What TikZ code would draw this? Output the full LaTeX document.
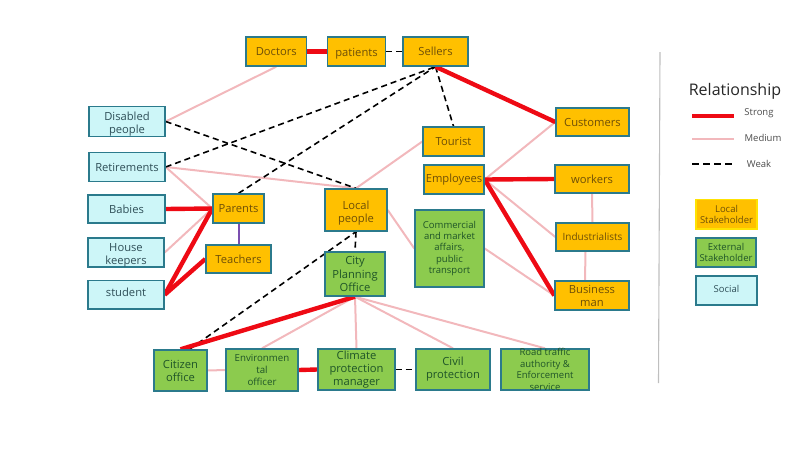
\documentclass[tikz,border=0pt]{standalone}
\usepackage{fontspec}
\setmainfont{Open Sans}
\usetikzlibrary{backgrounds}
\definecolor{edgeblue}{HTML}{2B7A8C}
\definecolor{orangefill}{HTML}{FFC000}
\definecolor{greenfill}{HTML}{8CCB4E}
\definecolor{cyanfill}{HTML}{CDF6F8}
\definecolor{strongred}{HTML}{EE0A14}
\definecolor{medpink}{HTML}{F2B8BC}
\definecolor{orangetext}{HTML}{6E4F08}
\definecolor{greentext}{HTML}{1F5528}
\definecolor{cyantext}{HTML}{2F4F58}
\definecolor{linkpurple}{HTML}{7B4FB0}
\newcommand{\lowerby}{\rule{0pt}{13pt}}
\tikzset{
  basebox/.style={draw=edgeblue,line width=1.4pt,inner sep=0pt,align=center,font=\fontsize{11.2}{13.1}\selectfont},
  localbox/.style={basebox,fill=orangefill,text=orangetext},
  extbox/.style={basebox,fill=greenfill,text=greentext},
  socbox/.style={basebox,fill=cyanfill,text=cyantext},
  smalltext/.style={font=\fontsize{9.5}{11.4}\selectfont},
  strongline/.style={draw=strongred,line width=4.4pt},
  medline/.style={draw=medpink,line width=2pt},
  weakline/.style={draw=black,line width=1.6pt,dash pattern=on 6pt off 4pt},
  legendtext/.style={text=black!70,font=\fontsize{9.5}{11}\selectfont,inner sep=0pt},
}
\newcommand{\bx}[7]{%
  \pgfmathsetmacro\cxv{(#2+#4)/2}\pgfmathsetmacro\cyv{(#3+#5)/2}%
  \pgfmathsetmacro\wv{#4-#2}\pgfmathsetmacro\hv{#5-#3}%
  \node[#6,minimum width=\wv pt,minimum height=\hv pt] (#1) at (\cxv,\cyv) {#7};}
\begin{document}
\begin{tikzpicture}[x=1pt,y=-1pt]
\useasboundingbox (0,0) rectangle (800,461);
% top row
\bx{doctors}{246}{37}{306.5}{66}{localbox}{Doctors}
\bx{patients}{327.5}{37}{385.5}{66}{localbox}{\lowerby patients}
\bx{sellers}{403}{37}{468}{66}{localbox}{Sellers}
% left column
\bx{disabled}{89}{107}{165}{136}{socbox}{\rule{0pt}{14pt}Disabled\\people}
\bx{retire}{89}{152.5}{165}{181.5}{socbox}{Retirements}
\bx{babies}{88}{195}{165}{223}{socbox}{Babies}
\bx{house}{88}{238}{164}{267}{socbox}{\lowerby House\\keepers}
\bx{student}{88}{280.5}{164}{309}{socbox}{\raisebox{6pt}{student}}
\bx{parents}{213}{194}{264}{223}{localbox}{Parents}
\bx{teachers}{206}{245}{271}{273}{localbox}{Teachers}
% centre
\bx{local}{325}{189}{387}{231}{localbox}{\rule{0pt}{14pt}Local\\people}
\bx{city}{325}{252}{385}{296}{extbox}{City\\Planning\\Office}
\bx{tourist}{423}{127}{484}{156}{localbox}{Tourist}
\bx{employees}{424}{165}{484}{194}{localbox}{Employees}
\bx{commercial}{415}{210}{484}{287}{extbox,smalltext}{Commercial\\and market\\affairs,\\public\\transport}
% right
\bx{customers}{556}{108}{629}{136}{localbox}{Customers}
\bx{workers}{555}{165}{629}{193}{localbox}{workers}
\bx{industrial}{556}{223}{629}{251}{localbox,font=\fontsize{10}{12}\selectfont}{Industrialists}
\bx{business}{555}{281}{629}{310}{localbox}{Business\\man}
% bottom
\bx{citizen}{154}{350}{207}{391}{extbox}{Citizen\\office}
\bx{environ}{226}{349}{298}{391}{extbox,font=\fontsize{9.7}{12.4}\selectfont}{Environmen\\tal\\officer}
\bx{climate}{318}{349}{395}{390}{extbox}{Climate\\protection\\manager}
\bx{civil}{416}{349}{490}{390}{extbox}{Civil\\protection}
\bx{road}{501}{349}{589}{390}{extbox,smalltext,inner ysep=-4pt}{Road traffic\\authority \&\\Enforcement\\service}
% legend boxes
\bx{leglocal}{696}{199.5}{757}{229}{localbox,smalltext,draw=yellow!85!orange}{Local\\Stakeholder}
\bx{legext}{696}{238}{756}{267}{extbox,smalltext}{External\\Stakeholder}
\bx{legsoc}{696}{276}{757}{305}{socbox,smalltext}{\raisebox{4pt}{Social}}
% legend texts and keys
\node[text=black!85,font=\fontsize{16}{18}\selectfont,inner sep=0pt] (legtitle) at (735,91) {Relationship};
\node[legendtext] (strongtxt) at (759,113) {Strong};
\node[legendtext] (medtxt) at (763,138) {Medium};
\node[legendtext] (weaktxt) at (759,163.5) {Weak};
\coordinate (s1) at (692,116); \coordinate (s2) at (734,116);
\coordinate (m1) at (692,139); \coordinate (m2) at (734,139);
\coordinate (w1) at (692,164); \coordinate (w2) at (734,164);
\coordinate (v1) at (660,52); \coordinate (v2) at (658.5,383);
\draw[strongline] (s1) -- (s2);
\draw[medline] (m1) -- (m2);
\draw[weakline,dash pattern=on 7pt off 4pt] (w1) -- (w2);
\draw[draw=black!25,line width=1.1pt] (v1) -- (v2);
\begin{scope}[on background layer]
% medium
\draw[medline] (doctors.south) -- (disabled.east);
\draw[medline] (retire.east) -- (parents.west);
\draw[medline] (retire.east) -- (local.north);
\draw[medline] (house.east) -- (parents.west);
\draw[medline] (local.north) -- (tourist.west);
\draw[medline] (local.east) -- (commercial.west);
\draw[medline] (commercial.east) -- (business.west);
\draw[medline] (employees.east) -- (customers.west);
\draw[medline] (employees.east) -- (industrial.west);
\draw[medline] (workers.south) -- (industrial.north);
\draw[medline] ([xshift=-7pt]industrial.south) -- ([xshift=-7pt]business.north);
\draw[medline] (citizen.east) -- (environ.west);
\draw[medline] (city.south) -- (environ.north);
\draw[medline] (city.south) -- (climate.north);
\draw[medline] (city.south) -- (civil.north);
\draw[medline] (city.south) -- (road.north);
% weak
\draw[weakline] (patients.east) -- (sellers.west);
\draw[weakline] (retire.east) -- (sellers.south);
\draw[weakline] (parents.north) -- (sellers.south);
\draw[weakline] (disabled.east) -- (local.north);
\draw[weakline] (sellers.south) -- (tourist.north);
\draw[weakline] (local.south) -- (city.north);
\draw[weakline] ([xshift=9pt]citizen.north) -- (local.south);
\draw[weakline] (climate.east) -- (civil.west);
% strong
\draw[strongline] (doctors.east) -- (patients.west);
\draw[strongline] (babies.east) -- (parents.west);
\draw[strongline] (student.east) -- (parents.west);
\draw[strongline] (student.east) -- (teachers.west);
\draw[strongline] (sellers.south) -- (customers.west);
\draw[strongline] (employees.east) -- (workers.west);
\draw[strongline] (employees.east) -- (business.west);
\draw[strongline] (city.south) -- (citizen.north);
\draw[strongline] (environ.east) -- (climate.west);
% other
\draw[draw=linkpurple,line width=2pt] (parents.south) -- (teachers.north);
\end{scope}
\end{tikzpicture}
\end{document}
